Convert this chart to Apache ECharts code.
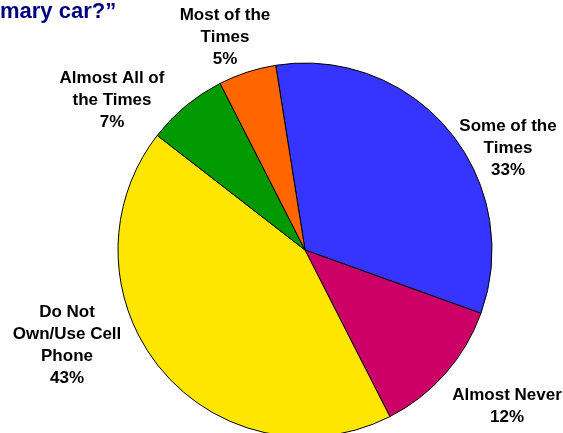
<!DOCTYPE html>
<html>
<head>
<meta charset="utf-8">
<script src="https://cdn.jsdelivr.net/npm/echarts@6/dist/echarts.min.js"></script>
<style>
  html, body { margin: 0; padding: 0; background: #fff; }
  #chart { width: 563px; height: 433px; }
</style>
</head>
<body>
<div id="chart"></div>
<script>
// 数据
const categories = ["Some of the\nTimes", "Almost Never", "Do Not\nOwn/Use Cell\nPhone", "Almost All of\nthe Times", "Most of the\nTimes"];
const values = [33, 12, 43, 7, 5];
const colors = ["#3535FF", "#CC0066", "#FFE600", "#009900", "#FF6600"];

// 标签位置（中心点）
const labelPos = [[508, 148], [507, 406], [67, 345], [112, 100], [225, 37]];

const chart = echarts.init(document.getElementById("chart"));
chart.setOption({
  animation: false,
  graphic: [{
    type: "text",
    left: 0,
    top: 1,
    style: {
      text: "mary car?\u201D",
      font: "bold 22px 'Liberation Sans', Arial, sans-serif",
      fill: "#000080"
    }
  }],
  series: [{
    type: "pie",
    center: [305, 250],
    radius: 187,
    startAngle: 99,
    clockwise: true,
    data: categories.map((c, i) => ({
      name: c,
      value: values[i],
      itemStyle: { color: colors[i] }
    })),
    itemStyle: { borderColor: "#000", borderWidth: 1 },
    label: {
      show: true,
      position: "outside",
      formatter: p => p.name + "\n" + p.value + "%",
      fontFamily: "'Liberation Sans', Arial, sans-serif",
      fontWeight: "bold",
      fontSize: 17,
      lineHeight: 22,
      color: "#000",
      align: "center",
      overflow: "none",
      edgeDistance: 0
    },
    labelLine: { show: false },
    labelLayout: p => ({
      x: labelPos[p.dataIndex][0],
      y: labelPos[p.dataIndex][1],
      align: "center",
      verticalAlign: "middle"
    })
  }]
});
</script>
</body>
</html>
